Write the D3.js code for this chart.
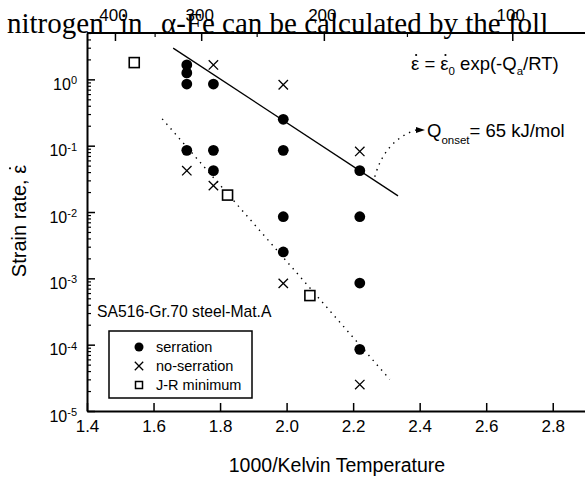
<!DOCTYPE html>
<html>
<head>
<meta charset="utf-8">
<script src="https://cdn.jsdelivr.net/npm/d3@7"></script>
<style>
  body { margin: 0; background: #fff; }
  svg { display: block; }
  text { font-family: "Liberation Sans", Arial, sans-serif; fill: #000; }
</style>
</head>
<body>
<svg width="585" height="482"></svg>
<script>
// data: [1000/T, strain rate]
const serration = [
  [1.70, 1.65], [1.70, 1.25], [1.70, 0.85], [1.70, 0.085],
  [1.78, 0.85], [1.78, 0.085], [1.78, 0.042],
  [1.99, 0.25], [1.99, 0.085], [1.99, 0.0085], [1.99, 0.0025],
  [2.22, 0.042], [2.22, 0.0085], [2.22, 0.00085], [2.22, 0.000085]
];
const noSerration = [
  [1.78, 1.65], [1.99, 0.83], [2.22, 0.082], [1.70, 0.042],
  [1.78, 0.025], [1.99, 0.00084], [2.22, 0.000025]
];
const jrMinimum = [[1.542, 1.79], [1.8225, 0.018], [2.07, 0.00055]];
const fitSolid = [[1.659, 2.96], [2.335, 0.0175]];
const fitDotted = [[1.626, 0.254], [2.31, 0.00003]];
const arrowPath = [[2.265, 0.034], [2.296, 0.122], [2.39, 0.173]];
const arrowTip = [2.416, 0.173];

const xTicks = [1.4, 1.6, 1.8, 2.0, 2.2, 2.4, 2.6, 2.8];
const yExponents = [-5, -4, -3, -2, -1, 0];
const topMajor = [400, 300, 200, 100];   // deg C
const topMinor = [350, 250, 150];

const svg = d3.select('svg');
const width = +svg.attr('width');
const height = +svg.attr('height');

const x = d3.scaleLinear().domain([1.4, 2.9]).range([87, 586]);
const y = d3.scaleLog().domain([1e-5, 5]).range([411, 33]);
const xC = c => x(1000 / (c + 273.15));

svg.append('rect').attr('width', width).attr('height', height).attr('fill', '#fff');

// bottom axis
const xAxis = svg.append('g')
    .attr('transform', `translate(0,${y(1e-5)})`)
    .call(d3.axisBottom(x).tickValues(xTicks).tickSize(-8).tickSizeOuter(0)
      .tickPadding(9).tickFormat(d3.format('.1f')));
xAxis.select('.domain').attr('stroke-width', 2);
xAxis.selectAll('.tick line').attr('stroke-width', 1.5);
xAxis.selectAll('.tick text').attr('font-size', 17).attr('font-family', null);

// left axis
const yMinor = [];
yExponents.slice(0, -1).forEach(e => {
  for (let k = 2; k <= 9; k++) yMinor.push(k * Math.pow(10, e));
});
yMinor.push(2, 3, 4, 5);

const yAxis = svg.append('g')
    .attr('transform', `translate(${x(1.4)},0)`)
    .call(d3.axisLeft(y).tickValues(yExponents.map(e => Math.pow(10, e)))
      .tickSize(-8).tickSizeOuter(0).tickFormat(''));
yAxis.select('.domain').attr('stroke-width', 2);
yAxis.selectAll('.tick line').attr('stroke-width', 1.5);

svg.append('g')
    .attr('transform', `translate(${x(1.4)},0)`)
    .call(d3.axisLeft(y).tickValues(yMinor).tickSize(-4).tickSizeOuter(0).tickFormat(''))
    .call(g => g.select('.domain').remove())
    .selectAll('.tick line').attr('stroke-width', 1.2);

const yLab = svg.append('g').selectAll('text')
  .data(yExponents)
  .join('text')
    .attr('x', 77)
    .attr('y', e => y(Math.pow(10, e)) + 10.5)
    .attr('text-anchor', 'end');
yLab.append('tspan').attr('font-size', 16).text('10');
yLab.append('tspan').attr('font-size', 11).attr('dy', -5.5).text(e => e < 0 ? '-' + (-e) : e);

// top axis (deg C)
const topG = svg.append('g');
topG.append('line')
    .attr('x1', x(1.4)).attr('x2', width)
    .attr('y1', y(5)).attr('y2', y(5))
    .attr('stroke', '#000').attr('stroke-width', 2);
topG.selectAll('line.maj').data(topMajor).join('line').attr('class', 'maj')
    .attr('x1', xC).attr('x2', xC)
    .attr('y1', y(5)).attr('y2', y(5) + 8)
    .attr('stroke', '#000').attr('stroke-width', 1.5);
topG.selectAll('line.min').data(topMinor).join('line').attr('class', 'min')
    .attr('x1', xC).attr('x2', xC)
    .attr('y1', y(5)).attr('y2', y(5) + 4)
    .attr('stroke', '#000').attr('stroke-width', 1.2);
topG.selectAll('text').data(topMajor).join('text')
    .attr('x', d => xC(d) - 2)
    .attr('y', 21)
    .attr('text-anchor', 'middle')
    .attr('font-size', 17)
    .text(d => d);

// fit lines
const line = d3.line().x(d => x(d[0])).y(d => y(d[1]));
svg.append('path').attr('d', line(fitSolid))
    .attr('fill', 'none').attr('stroke', '#000').attr('stroke-width', 1.3);
svg.append('path').attr('d', line(fitDotted))
    .attr('fill', 'none').attr('stroke', '#000').attr('stroke-width', 1.4)
    .attr('stroke-dasharray', '1.4,5');

// markers
const cross = (g, r) => g.append('path')
    .attr('d', `M${-r},${-r}L${r},${r}M${-r},${r}L${r},${-r}`)
    .attr('stroke', '#000').attr('stroke-width', 1.3).attr('fill', 'none');

svg.append('g').selectAll('circle').data(serration).join('circle')
    .attr('cx', d => x(d[0])).attr('cy', d => y(d[1])).attr('r', 5.4).attr('fill', '#000');

svg.append('g').selectAll('g').data(noSerration).join('g')
    .attr('transform', d => `translate(${x(d[0])},${y(d[1])})`)
    .each(function () { cross(d3.select(this), 4.7); });

svg.append('g').selectAll('rect').data(jrMinimum).join('rect')
    .attr('x', d => x(d[0]) - 5).attr('y', d => y(d[1]) - 5)
    .attr('width', 10).attr('height', 10)
    .attr('fill', '#fff').attr('stroke', '#000').attr('stroke-width', 1.6);

// curved dotted arrow to Q label
const p = arrowPath.map(d => [x(d[0]), y(d[1])]);
svg.append('path')
    .attr('d', `M${p[0][0]},${p[0][1]}Q${p[1][0]},${p[1][1]} ${p[2][0]},${p[2][1]}`)
    .attr('fill', 'none').attr('stroke', '#000').attr('stroke-width', 1.4)
    .attr('stroke-dasharray', '1.4,5');
const tx = x(arrowTip[0]), ty = y(arrowTip[1]);
svg.append('path')
    .attr('d', `M${tx},${ty}L${tx - 9},${ty - 3}L${tx - 9},${ty + 3}Z`)
    .attr('fill', '#000');

// annotations
const dotAbove = (textSel, idx, lift) => {
  const node = textSel.node();
  const ext = node.getExtentOfChar(idx);
  const parent = d3.select(node.parentNode);
  parent.append('circle')
      .attr('cx', ext.x + ext.width / 2 + 1)
      .attr('cy', lift)
      .attr('r', 1.1).attr('fill', '#000');
};

const qLab = svg.append('text').attr('x', tx + 2).attr('y', ty + 7).attr('font-size', 18.5);
qLab.append('tspan').text('Q');
qLab.append('tspan').attr('font-size', 11.5).attr('dy', 7).text('onset');
qLab.append('tspan').attr('dy', -7).text('= 65 kJ/mol');

const eqG = svg.append('g');
const eq = eqG.append('text').attr('x', 411).attr('y', 70).attr('font-size', 18.5)
    .style('white-space', 'pre');
eq.append('tspan').text('ε = ε');
eq.append('tspan').attr('font-size', 11.5).attr('dy', 5).text('0');
eq.append('tspan').attr('dy', -5).text(' exp(-Q');
eq.append('tspan').attr('font-size', 11.5).attr('dy', 5).text('a');
eq.append('tspan').attr('dy', -5).text('/RT)');
dotAbove(eq, 0, 55);
dotAbove(eq, 4, 55);

svg.append('text').attr('x', 97).attr('y', 317).attr('font-size', 15.7)
    .text('SA516-Gr.70 steel-Mat.A');

// legend
const legend = svg.append('g');
legend.append('rect').attr('x', 109).attr('y', 331).attr('width', 143).attr('height', 67)
    .attr('fill', '#fff').attr('stroke', '#000').attr('stroke-width', 1.5);
const legY = [347, 366, 385];
const legNames = ['serration', 'no-serration', 'J-R minimum'];
legend.append('circle').attr('cx', 139).attr('cy', legY[0]).attr('r', 4.5).attr('fill', '#000');
cross(legend.append('g').attr('transform', `translate(139,${legY[1]})`), 4.2);
legend.append('rect').attr('x', 135.5).attr('y', legY[2] - 3.5).attr('width', 7).attr('height', 7)
    .attr('fill', '#fff').attr('stroke', '#000').attr('stroke-width', 1.5);
legend.selectAll('text').data(legNames).join('text')
    .attr('x', 156).attr('y', (d, i) => legY[i] + 5)
    .attr('font-size', 14.5).text(d => d);

// axis titles
svg.append('text').attr('x', 337).attr('y', 472).attr('text-anchor', 'middle')
    .attr('font-size', 19.5).text('1000/Kelvin Temperature');
const yTitleG = svg.append('g').attr('transform', 'translate(26,221) rotate(-90)');
const yTitle = yTitleG.append('text').attr('x', 0).attr('y', 0).attr('text-anchor', 'middle')
    .attr('font-size', 20).text('Strain rate, ε');
dotAbove(yTitle, 13, -16);

// document text overlapping the figure
const doc = svg.append('text').attr('y', 33)
    .style('font-family', '"Liberation Serif", "Times New Roman", serif')
    .attr('font-size', 29);
doc.append('tspan').attr('x', 7).text('nitrogen');
doc.append('tspan').attr('x', 120).text('in');
doc.append('tspan').attr('x', 161).text('α-Fe can be calculated by the foll');
</script>
</body>
</html>
